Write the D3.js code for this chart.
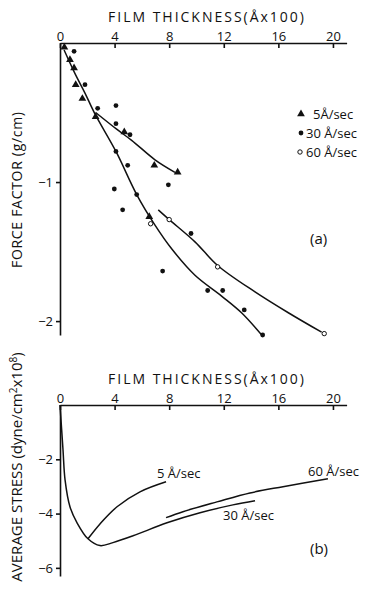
<!DOCTYPE html>
<html>
<head>
<meta charset="utf-8">
<script src="https://cdn.jsdelivr.net/npm/d3@7"></script>
<style>
  body { margin: 0; background: #fff; }
  svg text { font-family: "Open Sans", "Liberation Sans", sans-serif; fill: #111; }
  .axis path, .axis line { stroke: #111; stroke-width: 1.6; }
  .axis text { font-size: 13px; }
</style>
</head>
<body>
<svg width="372" height="592"></svg>
<script>
// thickness ticks (A x 100)
var xTicks = [0, 4, 8, 12, 16, 20];

// (a) force factor, measured points  [thickness, force]
var pts5 = [[0.32,-0.03],[0.73,-0.12],[1.03,-0.18],[1.15,-0.30],[1.64,-0.40],[2.61,-0.53],
            [4.71,-0.64],[6.91,-0.88],[8.62,-0.93],[6.54,-1.25]];
var pts30 = [[1.03,-0.06],[1.83,-0.30],[2.76,-0.47],[4.10,-0.45],[4.10,-0.58],[5.13,-0.66],
             [4.10,-0.78],[4.96,-0.88],[7.94,-1.02],[3.98,-1.05],[5.62,-1.09],[4.59,-1.20],
             [9.6,-1.37],[7.52,-1.64],[10.82,-1.78],[11.92,-1.78],[13.5,-1.92],[14.85,-2.10]];
var pts60 = [[6.64,-1.30],[8.0,-1.27],[11.55,-1.61],[19.36,-2.09]];

// (a) fitted curves
var fitMain = [[0.3,-0.05],[1.1,-0.22],[1.83,-0.36],[2.56,-0.51],[4.10,-0.78],[5.62,-1.09],
               [6.96,-1.31],[8.18,-1.48],[9.89,-1.67],[11.84,-1.82],[13.3,-1.94],[14.78,-2.10]];
var fit5 = [[2.61,-0.50],[4.15,-0.62],[5.25,-0.70],[6.96,-0.84],[8.42,-0.93]];
var fit60 = [[7.2,-1.20],[8.0,-1.27],[9.89,-1.43],[11.55,-1.60],[14.29,-1.79],[16.73,-1.94],[19.17,-2.08]];

// (b) average stress curves
var stress30 = [[0,0],[0.22,-1.65],[0.37,-2.76],[0.73,-3.75],[1.25,-4.34],[2.05,-4.93],[2.93,-5.18],
                [3.88,-5.07],[5.35,-4.82],[7.84,-4.34],[10.26,-3.97],[12.67,-3.68],[14.29,-3.53]];
var stress5 = [[2.05,-4.93],[2.93,-4.38],[4.18,-3.75],[5.86,-3.2],[7.77,-2.83]];
var stress60 = [[7.77,-4.15],[9.01,-3.93],[11.5,-3.57],[13.92,-3.24],[16.34,-3.01],[19.63,-2.72]];

var forceTicks = [-1, -2];
var stressTicks = [-2, -4, -6];

var svg = d3.select("svg");

var x = d3.scaleLinear().domain([0, 21]).range([60, 346.6]);
var ya = d3.scaleLinear().domain([0, -2.1]).range([43, 335]);
var yb = d3.scaleLinear().domain([0, -6.3]).range([405, 576]);

var line = function(ys) {
  return d3.line().curve(d3.curveCatmullRom.alpha(0.5))
    .x(function(d) { return x(d[0]); })
    .y(function(d) { return ys(d[1]); });
};

function drawAxes(ys, yTicks, titleY) {
  svg.append("g")
      .attr("class", "axis")
      .attr("transform", "translate(0," + ys(0) + ")")
      .call(d3.axisTop(x).tickValues(xTicks).tickSizeInner(-5).tickSizeOuter(0).tickPadding(2));
  svg.append("g")
      .attr("class", "axis")
      .attr("transform", "translate(" + x(0) + ",0)")
      .call(d3.axisLeft(ys).tickValues(yTicks).tickSizeInner(4).tickSizeOuter(0).tickPadding(3)
        .tickFormat(function(d) { return "\u2212" + Math.abs(d); }));
  svg.append("text")
      .attr("x", 206).attr("y", titleY)
      .attr("text-anchor", "middle")
      .attr("font-size", 14)
      .attr("textLength", 196)
      .text("FILM THICKNESS(Åx100)");
}

// ---- panel (a)
drawAxes(ya, forceTicks, 22);

[fitMain, fit5, fit60].forEach(function(c) {
  svg.append("path").datum(c)
      .attr("fill", "none").attr("stroke", "#111").attr("stroke-width", 1.5)
      .attr("d", line(ya));
});

var tri = d3.symbol().type(d3.symbolTriangle).size(26);
svg.append("g").selectAll("path").data(pts5).enter().append("path")
    .attr("d", tri)
    .attr("transform", function(d) { return "translate(" + x(d[0]) + "," + ya(d[1]) + ")"; })
    .attr("fill", "#111");
svg.append("g").selectAll("circle").data(pts30).enter().append("circle")
    .attr("cx", function(d) { return x(d[0]); })
    .attr("cy", function(d) { return ya(d[1]); })
    .attr("r", 2.4).attr("fill", "#111");
svg.append("g").selectAll("circle").data(pts60).enter().append("circle")
    .attr("cx", function(d) { return x(d[0]); })
    .attr("cy", function(d) { return ya(d[1]); })
    .attr("r", 2.2).attr("fill", "#fff").attr("stroke", "#111").attr("stroke-width", 1);

// legend
var legend = svg.append("g").attr("transform", "translate(301,115)");
legend.append("path").attr("d", tri).attr("transform", "translate(0,-1)").attr("fill", "#111");
legend.append("circle").attr("cx", 0).attr("cy", 18).attr("r", 2.4).attr("fill", "#111");
legend.append("circle").attr("cx", -1).attr("cy", 37).attr("r", 2.2).attr("fill", "#fff").attr("stroke", "#111");
legend.selectAll("text").data(["5Å/sec", "30 Å/sec", "60 Å/sec"]).enter().append("text")
    .attr("x", function(d, i) { return i == 0 ? 12 : 5; })
    .attr("y", function(d, i) { return i * 19 + 4; })
    .attr("font-size", 13)
    .text(function(d) { return d; });

svg.append("text").attr("x", 310).attr("y", 244).attr("font-size", 15).text("(a)");

svg.append("text")
    .attr("transform", "translate(22,190) rotate(-90)")
    .attr("text-anchor", "middle")
    .attr("font-size", 14)
    .attr("textLength", 156)
    .text("FORCE FACTOR (g/cm)");

// ---- panel (b)
drawAxes(yb, stressTicks, 384);

[stress30, stress5, stress60].forEach(function(c) {
  svg.append("path").datum(c)
      .attr("fill", "none").attr("stroke", "#111").attr("stroke-width", 1.5)
      .attr("d", line(yb));
});

svg.append("text").attr("x", 157).attr("y", 478).attr("font-size", 13).text("5 Å/sec");
svg.append("text").attr("x", 308).attr("y", 476).attr("font-size", 13).text("60 Å/sec");
svg.append("text").attr("x", 223).attr("y", 520).attr("font-size", 13).text("30 Å/sec");
svg.append("text").attr("x", 310).attr("y", 554).attr("font-size", 15).text("(b)");

var yl = svg.append("text")
    .attr("transform", "translate(22,467) rotate(-90)")
    .attr("text-anchor", "middle")
    .attr("font-size", 15);
yl.append("tspan").text("AVERAGE STRESS (dyne/cm");
yl.append("tspan").attr("dy", -5).attr("font-size", 10).text("2");
yl.append("tspan").attr("dy", 5).text("x10");
yl.append("tspan").attr("dy", -5).attr("font-size", 10).text("8");
yl.append("tspan").attr("dy", 5).text(")");
</script>
</body>
</html>
